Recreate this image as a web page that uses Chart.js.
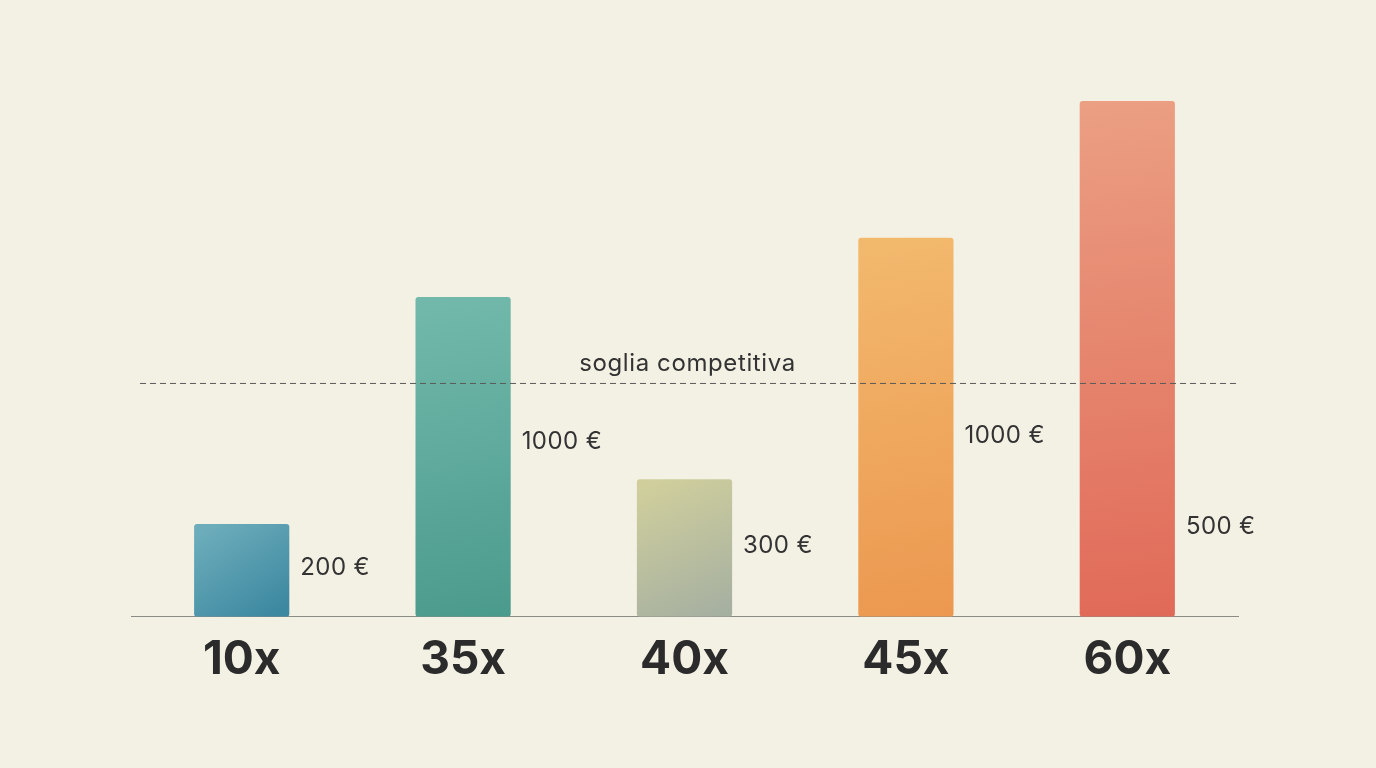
<!DOCTYPE html>
<html>
<head>
<meta charset="utf-8">
<script src="https://cdn.jsdelivr.net/npm/chart.js@4.4.1/dist/chart.umd.min.js"></script>
<style>
  html, body { margin: 0; padding: 0; background: #f3f0e4; }
  #wrap { width: 1376px; height: 768px; position: relative; }
</style>
</head>
<body>
<div id="wrap"><canvas id="multipliersChart"></canvas></div>
<script>
// categories and values (bar heights in chart units)
const categories = ["10x", "35x", "40x", "45x", "60x"];
const barValues = [10.8, 37.2, 16.0, 44.1, 60.0];
const priceLabels = ["200 €", "1000 €", "300 €", "1000 €", "500 €"];
const thresholdValue = 27.2;
const thresholdLabel = "soglia competitiva";

const topColors = ["#6dadbb", "#72b9ab", "#d0cf9c", "#f2b96d", "#eb9f83"];
const bottomColors = ["#3c88a0", "#4b9b8d", "#a6b0a1", "#ec9850", "#e06a58"];

function barGradient(context) {
  const chart = context.chart;
  const i = context.dataIndex;
  if (!chart.chartArea || !chart.scales.x || !chart.scales.y) return bottomColors[i];
  const yScale = chart.scales.y;
  const xScale = chart.scales.x;
  const top = yScale.getPixelForValue(barValues[i]);
  const bottom = yScale.getPixelForValue(0);
  const cx = xScale.getPixelForValue(i);
  const g = chart.ctx.createLinearGradient(cx - 30, top, cx + 30, bottom);
  g.addColorStop(0, topColors[i]);
  g.addColorStop(1, bottomColors[i]);
  return g;
}

const annotationsPlugin = {
  id: "annotations",
  afterDatasetsDraw(chart, args, opts) {
    const { ctx, chartArea } = chart;
    const yScale = chart.scales.y;
    const meta = chart.getDatasetMeta(0);

    // threshold line
    const ty = yScale.getPixelForValue(thresholdValue);
    ctx.save();
    ctx.strokeStyle = "#5a5a5a";
    ctx.lineWidth = 1;
    ctx.setLineDash([6, 4]);
    ctx.beginPath();
    ctx.moveTo(chartArea.left + 9, ty + 0.5);
    ctx.lineTo(chartArea.right - 2, ty + 0.5);
    ctx.stroke();
    ctx.setLineDash([]);
    ctx.fillStyle = "#333333";
    ctx.font = "400 24px Inter, 'Open Sans', sans-serif";
    ctx.letterSpacing = "0.6px";
    ctx.textAlign = "center";
    ctx.textBaseline = "alphabetic";
    ctx.fillText(thresholdLabel, (chartArea.left + chartArea.right) / 2 + 3, ty - 12);

    // price labels beside each bar
    ctx.font = "400 24px Inter, 'Open Sans', sans-serif";
    ctx.letterSpacing = "0.4px";
    ctx.textAlign = "left";
    ctx.textBaseline = "middle";
    meta.data.forEach((bar, i) => {
      const x = bar.x + bar.width / 2 + 11;
      const y = yScale.getPixelForValue(opts.labelAt[i]);
      ctx.fillText(priceLabels[i], x, y);
    });
    ctx.restore();
  },
};

const ctx = document.getElementById("multipliersChart").getContext("2d");

new Chart(ctx, {
  type: "bar",
  data: {
    labels: categories,
    datasets: [
      {
        data: barValues,
        backgroundColor: barGradient,
        borderWidth: 0,
        borderRadius: 3,
        borderSkipped: false,
        barPercentage: 0.43,
        categoryPercentage: 1,
      },
    ],
  },
  options: {
    responsive: true,
    maintainAspectRatio: false,
    animation: false,
    layout: {
      padding: { left: 131, right: 138, top: 15, bottom: 64 },
    },
    plugins: {
      legend: { display: false },
      tooltip: { enabled: false },
      annotations: {
        labelAt: [5.7, 20.4, 8.3, 21.0, 10.5],
      },
    },
    scales: {
      x: {
        grid: { display: false, drawTicks: false },
        border: { display: true, color: "#8a8a86", width: 1 },
        ticks: {
          padding: 16,
          color: "#2b2b2b",
          font: { family: "Inter, 'Open Sans', sans-serif", size: 46, weight: "700" },
        },
      },
      y: {
        display: false,
        min: 0,
        max: 70,
      },
    },
  },
  plugins: [annotationsPlugin],
});
</script>
</body>
</html>
